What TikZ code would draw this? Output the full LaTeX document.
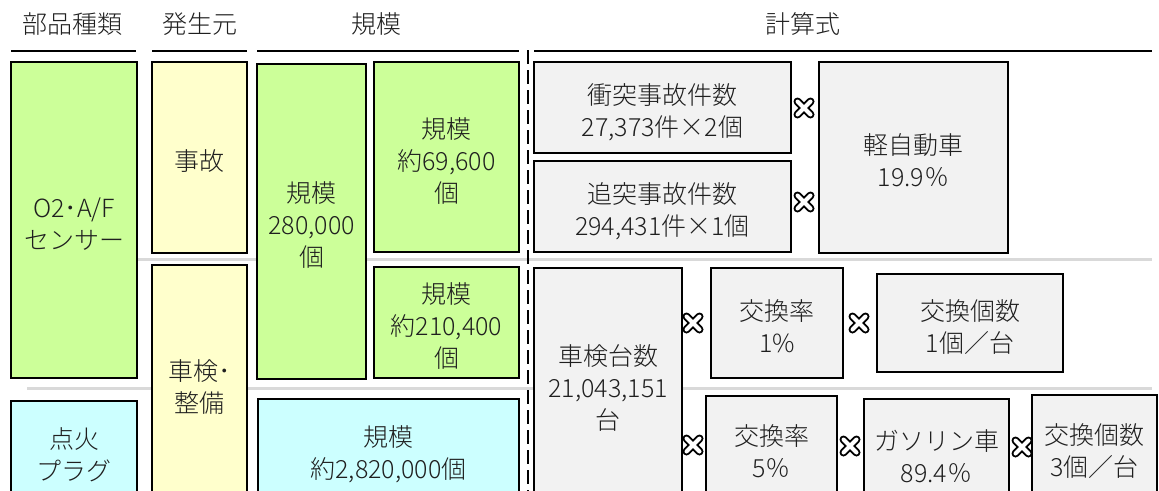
\documentclass[tikz,border=0pt]{standalone}
\usepackage{fontspec}
\IfFontExistsTF{Noto Sans CJK JP Light}{\setmainfont{Noto Sans CJK JP Light}}{\setmainfont{Noto Sans CJK JP}}
\definecolor{gfill}{HTML}{CCFF99}
\definecolor{yfill}{HTML}{FFFFCC}
\definecolor{cfill}{HTML}{CCFFFF}
\definecolor{kfill}{HTML}{F2F2F2}
\definecolor{sepc}{HTML}{D9D9D9}
\definecolor{txtc}{HTML}{1F1F1F}
\newcommand\TS{\rule{0pt}{30pt}}
\newcommand\BS{\rule[-4pt]{0pt}{4pt}}
\tikzset{
  cell/.style={draw=black, line width=2pt, align=center, inner sep=0pt,
    font=\fontsize{25}{32}\selectfont, text=txtc},
  hdr/.style={font=\fontsize{25}{32}\selectfont, text=txtc, inner sep=0pt},
  hline/.style={line width=2.5pt, black},
  sepline/.style={line width=3pt, sepc},
  dline/.style={line width=2.5pt, black, dash pattern=on 14pt off 6pt},
  multx/.pic={
    \draw[line width=8pt, line cap=round] (-6.5,-6.5)--(6.5,6.5) (-6.5,6.5)--(6.5,-6.5);
    \draw[white, line width=4pt, line cap=round] (-6.5,-6.5)--(6.5,6.5) (-6.5,6.5)--(6.5,-6.5);
  }
}
\newcommand\cellbox[7]{%
  \node[cell,fill=#6,minimum width={(#4-#2)*1pt},minimum height={(#5-#3)*1pt}]
    (#1) at ({(#2+#4)/2},{(#3+#5)/2}) {\TS#7\BS};}
\begin{document}
\begin{tikzpicture}[x=1pt,y=-1pt]
\useasboundingbox (0,0) rectangle (1159,490);
\fill[white] (0,0) rectangle (1159,490);
\clip (0,0) rectangle (1159,490);
% headers
\node[hdr] (h1) at (72,24) {部品種類};
\node[hdr] (h2) at (200,24) {発生元};
\node[hdr] (h3) at (376,24) {規模};
\node[hdr] (h4) at (803,24) {計算式};
\draw[hline] (11,51) -- (136,51);
\draw[hline] (152,51) -- (247,51);
\draw[hline] (257,51) -- (519,51);
\draw[hline] (534,51) -- (1152,51);
% row separators
\draw[sepline] (27,259.5) -- (1152,259.5);
\draw[sepline] (27,388) -- (1152,388);
% dashed divider
\draw[dline] (528,50) -- (528,495);
% column 1
\cellbox{o2}{11}{62}{137}{378}{gfill}{O2･A/F\\センサー}
\cellbox{plug}{11}{401}{137}{501}{cfill}{点火\\プラグ}
% column 2
\cellbox{acc}{152}{62}{247}{253}{yfill}{事故}
\cellbox{insp}{152}{265}{247}{501}{yfill}{車検･\\整備}
% column 3
\cellbox{s280}{257}{64}{366}{379}{gfill}{規模\\280,000\\個}
\cellbox{s69}{374}{62}{519}{252}{gfill}{規模\\約69,600\\個}
\cellbox{s210}{374}{267}{519}{378}{gfill}{規模\\約210,400\\個}
\cellbox{s282}{258}{399}{519}{501}{cfill}{規模\\約2,820,000個}
% formulas
\cellbox{f1}{534}{62}{791}{153}{kfill}{衝突事故件数\\27,373件×2個}
\cellbox{f2}{534}{161}{791}{252}{kfill}{追突事故件数\\294,431件×1個}
\cellbox{f3}{819}{62}{1008}{253}{kfill}{軽自動車\\19.9％}
\cellbox{f4}{534}{268}{682}{500}{kfill}{車検台数\\21,043,151\\台}
\cellbox{f5}{711}{268}{843}{378}{kfill}{交換率\\1\%}
\cellbox{f6}{877}{274}{1063}{372}{kfill}{交換個数\\1個／台}
\cellbox{f7}{706}{396}{837}{501}{kfill}{交換率\\5％}
\cellbox{f8}{864}{399}{1009}{508}{kfill}{ガソリン車\\89.4％}
\cellbox{f9}{1032}{395}{1157}{500}{kfill}{交換個数\\3個／台}
% multiplication marks
\pic (m1) at (804,108) {multx};
\pic (m2) at (804,202) {multx};
\pic (m3) at (693,323) {multx};
\pic (m4) at (859,323) {multx};
\pic (m5) at (693,445) {multx};
\pic (m6) at (850,446) {multx};
\pic (m7) at (1022,447) {multx};
\end{tikzpicture}
\end{document}
